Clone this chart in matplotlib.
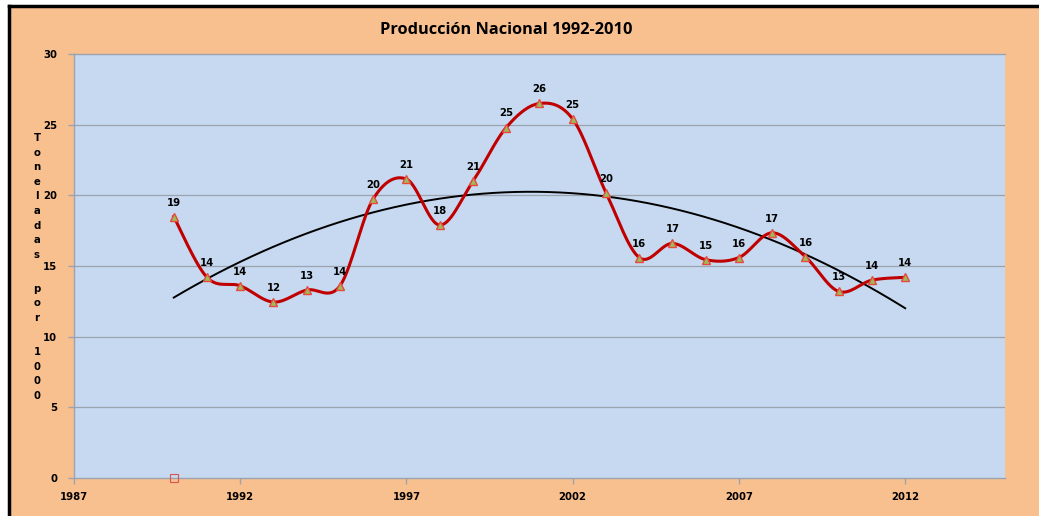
import numpy as np
import matplotlib.pyplot as plt
from matplotlib.lines import Line2D

# data
years = list(range(1990, 2013))
values = [18.5, 14.2, 13.6, 12.45, 13.3, 13.6, 19.75, 21.15, 17.9, 21.0, 24.8, 26.5,
          25.4, 20.2, 15.6, 16.6, 15.45, 15.6, 17.35, 15.65, 13.2, 14.0, 14.2]
labels = ["19", "14", "14", "12", "13", "14", "20", "21", "18", "21", "25", "26",
          "25", "20", "16", "17", "15", "16", "17", "16", "13", "14", "14"]
extra_x = [1990]
extra_y = [0]
xticks = [1987, 1992, 1997, 2002, 2007, 2012]
yticks = [0, 5, 10, 15, 20, 25, 30]
ylab_words = ["Toneladas", "por", "1000"]


def smooth(x, y, n=30):
    # Excel-style smoothed line (Catmull-Rom / Bezier)
    x = np.asarray(x, float)
    y = np.asarray(y, float)
    px = np.concatenate([[x[0]], x, [x[-1]]])
    py = np.concatenate([[y[0]], y, [y[-1]]])
    ox, oy = [], []
    t = np.linspace(0, 1, n)
    for i in range(1, len(px) - 2):
        p0 = np.array([px[i], py[i]])
        p3 = np.array([px[i + 1], py[i + 1]])
        c1 = p0 + (np.array([px[i + 1], py[i + 1]]) - np.array([px[i - 1], py[i - 1]])) / 6
        c2 = p3 - (np.array([px[i + 2], py[i + 2]]) - np.array([px[i], py[i]])) / 6
        b = ((1 - t) ** 3)[:, None] * p0 + (3 * (1 - t) ** 2 * t)[:, None] * c1 \
            + (3 * (1 - t) * t ** 2)[:, None] * c2 + (t ** 3)[:, None] * p3
        ox.extend(b[:, 0])
        oy.extend(b[:, 1])
    return ox, oy


fig = plt.figure(figsize=(10.39, 5.16), dpi=100, facecolor="#F9C08F")
ax = fig.add_axes([0.0712, 0.0736, 0.8960, 0.8217])
ax.set_facecolor("#C6D9F0")

# border lines at left and top of the image
fig.add_artist(Line2D([0.0087, 0.0087], [0, 0.988], color="black", lw=2.5))
fig.add_artist(Line2D([0.0087, 1.0], [0.988, 0.988], color="black", lw=2.5))
fig.add_artist(plt.Rectangle((0, 0.99), 1, 0.01, color="white", transform=fig.transFigure))
fig.add_artist(plt.Rectangle((0, 0), 0.0075, 1, color="white", transform=fig.transFigure))

for v in yticks[1:-1]:
    ax.axhline(v, color="#9CA3AE", lw=0.9, zorder=1)

# trend line (order 2 polynomial)
coef = np.polyfit(years, values, 2)
tx = np.linspace(years[0], years[-1], 200)
ax.plot(tx, np.polyval(coef, tx), color="black", lw=1.4, zorder=2)

sx, sy = smooth(years, values)
ax.plot(sx, sy, color="#C00000", lw=2.2, zorder=3)
ax.plot(years, values, linestyle="none", marker="^", markersize=6,
        markerfacecolor="#9BBB59", markeredgecolor="#E8483F", markeredgewidth=1, zorder=4)
ax.plot(extra_x, extra_y, linestyle="none", marker="s", markersize=6,
        markerfacecolor="none", markeredgecolor="#D9534F", markeredgewidth=0.8,
        clip_on=False, zorder=5)

for x, y, s in zip(years, values, labels):
    ax.annotate(s, (x, y), xytext=(0, 6.5), textcoords="offset points", ha="center",
                va="bottom", fontsize=7.3, fontweight="bold", color="black", zorder=6)

ax.set_xlim(1987, 2015)
ax.set_ylim(0, 30)
ax.set_xticks(xticks)
ax.set_yticks(yticks)
ax.tick_params(axis="both", labelsize=7.3, colors="#9CA3AE", labelcolor="black",
               length=4, width=1)
for lab in ax.get_xticklabels() + ax.get_yticklabels():
    lab.set_fontweight("bold")
ax.tick_params(axis="x", pad=6)
ax.tick_params(axis="y", pad=8)

for side in ["left", "bottom", "top"]:
    ax.spines[side].set_color("#9CA3AE")
    ax.spines[side].set_linewidth(1.0)
ax.spines["right"].set_visible(False)

fig.text(0.487, 0.941, "Producción Nacional 1992-2010", ha="center", va="center",
         fontsize=11.8, fontweight="bold", family="Open Sans")

# vertical stacked axis title, one character per line
ypix = 138
for w in ylab_words:
    for ch in w:
        fig.text(37 / 1039, 1 - ypix / 516, ch, ha="center", va="center",
                 fontsize=7.3, fontweight="bold")
        ypix += 14.6
    ypix += 19.5

fig.savefig("out.png", dpi=100, facecolor=fig.get_facecolor())
